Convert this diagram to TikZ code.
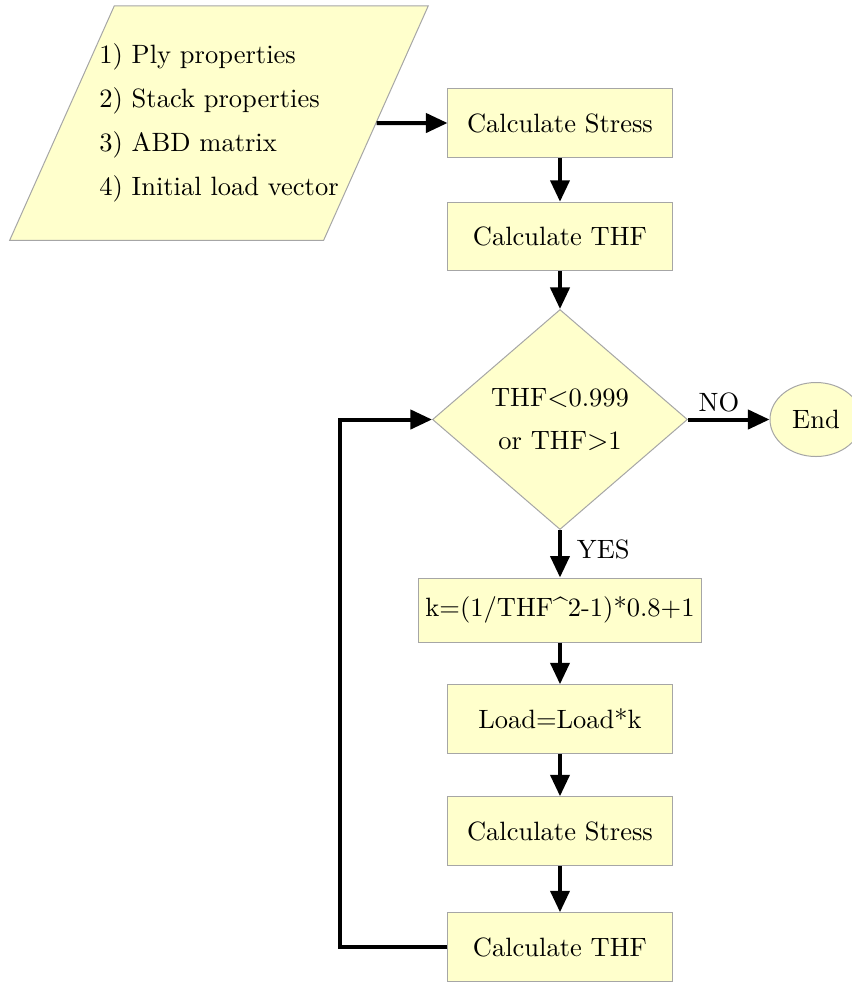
\documentclass[tikz,border=0pt]{standalone}
\usepackage{tikz}
\usetikzlibrary{shapes.geometric, positioning, arrows.meta, calc}
\usepackage{xcolor}
\definecolor{boxfill}{RGB}{255,255,204}

\begin{document}
\begin{tikzpicture}[x=0.4pt, y=-0.4pt,
  every node/.style={font=\fontsize{10.6}{12.7}\selectfont},
  process/.style={draw=gray!70, fill=boxfill, rectangle, minimum width=89.6pt,
    minimum height=27.4pt, inner sep=2pt, align=center},
  wideprocess/.style={process, minimum width=112.8pt, minimum height=25.6pt, inner sep=1pt},
  inputbox/.style={draw=gray!70, fill=boxfill, trapezium, trapezium left angle=65.95,
    trapezium right angle=114.05, inner xsep=-6pt, inner ysep=15.2pt, align=left},
  decision/.style={draw=gray!70, fill=boxfill, diamond, aspect=1.16, inner sep=0pt,
    minimum width=102pt, minimum height=88pt, align=center},
  terminal/.style={draw=gray!70, fill=boxfill, ellipse, minimum width=36.8pt,
    minimum height=29.6pt, inner sep=0pt},
  flow/.style={-{Triangle[length=8.6pt, width=7.6pt]}, line width=1.6pt}]
\useasboundingbox (0,0) rectangle (852,983);
\node[inputbox] (input) at (219,123)
  {1) Ply properties\\[4.9pt]2) Stack properties\\[4.9pt]3) ABD matrix\\[4.9pt]4) Initial load vector};
\node[process] (stress1) at (560,123) {Calculate Stress};
\node[process] (thf1) at (560,236.5) {Calculate THF};
\node[decision] (cond) at (560,419.5) {THF$<$0.999\\[4.5pt]or THF$>$1};
\node[terminal] (end) at (816,419.5) {End};
\node[wideprocess] (factor) at (560,610) {k=(1/THF\textasciicircum2-1)*0.8+1};
\node[process] (load) at (560,719) {Load=Load*k};
\node[process] (stress2) at (560,831) {Calculate Stress};
\node[process] (thf2) at (560,947) {Calculate THF};
\draw[flow] (input.east) -- (stress1.west);
\draw[flow] (stress1) -- (thf1);
\draw[flow] (thf1) -- (cond);
\draw[flow] (cond.east) -- node[above, pos=0.38, inner sep=2pt]{NO} (end.west);
\draw[flow] (cond.south) -- node[right, pos=0.4, inner sep=6pt]{YES} (factor.north);
\draw[flow] (factor) -- (load);
\draw[flow] (load) -- (stress2);
\draw[flow] (stress2) -- (thf2);
\draw[flow] (thf2.west) -- ++(-107,0) |- (cond.west);
\end{tikzpicture}
\end{document}
